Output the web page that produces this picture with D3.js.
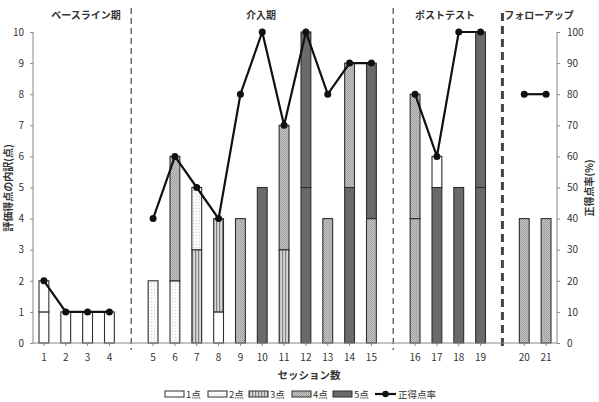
<!DOCTYPE html>
<html lang="ja">
<head>
<meta charset="utf-8">
<script src="https://cdn.jsdelivr.net/npm/d3@7"></script>
<style>
  body { margin: 0; background: #fff; }
  text { font-family: "Noto Sans CJK JP", "Noto Sans", sans-serif; fill: #333; }
</style>
</head>
<body>
<script>
// data
var sessions = ["1","2","3","4","5","6","7","8","9","10","11","12","13","14","15","16","17","18","19","20","21"];
var phaseNames = ["ベースライン期", "介入期", "ポストテスト", "フォローアップ"];
var phaseSizes = [4, 11, 4, 2];
var item1 = [1,1,1,1,2,2,3,1,4,5,3,5,4,5,4,4,5,5,5,4,4];
var item2 = [1,0,0,0,0,4,2,3,0,0,4,5,0,4,5,4,1,0,5,0,0];
var rate = [20,10,10,10,40,60,50,40,80,100,70,100,80,90,90,80,60,100,100,80,80];
var legendNames = ["1点","2点","3点","4点","5点"];

var w = 599, h = 402;
var pLeft = 33, pRight = 557, pTop = 32, pBottom = 343;

// slot keys with a gap between phases
var slots = [], phaseOfSession = [];
var k = 0;
phaseSizes.forEach(function(n, p) {
  if (p > 0) slots.push("gap" + p);
  for (var i = 0; i < n; i++) { slots.push(sessions[k]); phaseOfSession.push(p); k++; }
});

var x = d3.scaleBand().domain(slots).range([pLeft, pRight]).paddingInner(0.55).paddingOuter(0.275);
var yL = d3.scaleLinear().domain([0, 10]).range([pBottom, pTop]);
var yR = d3.scaleLinear().domain([0, 100]).range([pBottom, pTop]);

var svg = d3.select("body").append("svg").attr("width", w).attr("height", h);

// patterns
var defs = svg.append("defs");
var p2 = defs.append("pattern").attr("id", "p2").attr("width", 3).attr("height", 3).attr("patternUnits", "userSpaceOnUse");
p2.append("rect").attr("width", 3).attr("height", 3).attr("fill", "#fbfbfb");
p2.append("rect").attr("x", 1).attr("y", 1).attr("width", 1).attr("height", 1).attr("fill", "#d2d2d2");
var p3 = defs.append("pattern").attr("id", "p3").attr("width", 3).attr("height", 3).attr("patternUnits", "userSpaceOnUse");
p3.append("rect").attr("width", 3).attr("height", 3).attr("fill", "#d8d8d8");
p3.append("rect").attr("x", 0).attr("width", 1.2).attr("height", 3).attr("fill", "#808080");
var p4 = defs.append("pattern").attr("id", "p4").attr("width", 2).attr("height", 2).attr("patternUnits", "userSpaceOnUse");
p4.append("rect").attr("width", 2).attr("height", 2).attr("fill", "#c4c4c4");
p4.append("rect").attr("width", 1).attr("height", 1).attr("fill", "#9a9a9a");
p4.append("rect").attr("x", 1).attr("y", 1).attr("width", 1).attr("height", 1).attr("fill", "#a8a8a8");

var fills = [null, "#ffffff", "url(#p2)", "url(#p3)", "url(#p4)", "#6a6a6a"];

// phase dividers
[1, 2, 3].forEach(function(p) {
  var cx = x("gap" + p) + x.bandwidth() / 2;
  var bold = p === 3;
  svg.append("line")
    .attr("x1", cx).attr("x2", cx)
    .attr("y1", bold ? 13 : 8).attr("y2", 350)
    .attr("stroke", bold ? "#444" : "#555")
    .attr("stroke-width", bold ? 3 : 1.3)
    .attr("stroke-dasharray", bold ? "8,5" : "6,4");
});

// phase labels
var phaseCenters = [86, 261, 445, 539];
phaseNames.forEach(function(name, p) {
  svg.append("text").attr("x", phaseCenters[p]).attr("y", 19)
    .attr("text-anchor", "middle").attr("font-size", 10).attr("font-weight", "bold")
    .text(name);
});

// bars
var segs = [];
sessions.forEach(function(s, i) {
  if (item1[i] > 0) segs.push({ s: s, y0: 0, y1: item1[i], score: item1[i] });
  if (item2[i] > 0) segs.push({ s: s, y0: item1[i], y1: item1[i] + item2[i], score: item2[i] });
});
svg.selectAll("rect.seg").data(segs).enter().append("rect")
  .attr("class", "seg")
  .attr("x", function(d) { return x(d.s); })
  .attr("width", x.bandwidth())
  .attr("y", function(d) { return yL(d.y1); })
  .attr("height", function(d) { return yL(d.y0) - yL(d.y1); })
  .attr("fill", function(d) { return fills[d.score]; })
  .attr("stroke", "#2e2e2e").attr("stroke-width", 1.1);

// axes
var axL = svg.append("g").attr("transform", "translate(" + pLeft + ",0)")
  .call(d3.axisLeft(yL).ticks(10).tickSize(3).tickPadding(6));
var axR = svg.append("g").attr("transform", "translate(" + pRight + ",0)")
  .call(d3.axisRight(yR).ticks(10).tickSize(3).tickPadding(7));
var axB = svg.append("g").attr("transform", "translate(0," + pBottom + ")")
  .call(d3.axisBottom(x).tickValues(sessions).tickSize(3).tickPadding(8));
[axL, axR, axB].forEach(function(g) {
  g.select(".domain").attr("stroke", "#888");
  g.selectAll(".tick line").attr("stroke", "#888");
  g.selectAll(".tick text").attr("font-size", 10).attr("fill", "#333")
    .attr("font-family", "'Noto Sans', sans-serif");
});
axL.select(".domain").attr("d", "M0," + pTop + "V" + pBottom);
axR.select(".domain").attr("d", "M0," + pTop + "V" + pBottom);
axB.select(".domain").attr("d", "M" + pLeft + ",0H" + pRight);

// rate line, broken by phase
var line = d3.line()
  .x(function(d) { return x(d.s) + x.bandwidth() / 2; })
  .y(function(d) { return yR(d.v); });
var pts = sessions.map(function(s, i) { return { s: s, v: rate[i], p: phaseOfSession[i] }; });
var groups = d3.groups(pts, function(d) { return d.p; });
svg.selectAll("path.rate").data(groups).enter().append("path")
  .attr("class", "rate")
  .attr("d", function(g) { return line(g[1]); })
  .attr("fill", "none").attr("stroke", "#111").attr("stroke-width", 2.2);
svg.selectAll("circle.pt").data(pts).enter().append("circle")
  .attr("class", "pt")
  .attr("cx", function(d) { return x(d.s) + x.bandwidth() / 2; })
  .attr("cy", function(d) { return yR(d.v); })
  .attr("r", 3.5).attr("fill", "#111");

// axis titles
svg.append("text").attr("transform", "translate(12,188) rotate(-90)")
  .attr("text-anchor", "middle").attr("font-size", 10).attr("font-weight", "bold")
  .text("評価得点の内訳(点)");
svg.append("text").attr("transform", "translate(593,188) rotate(-90)")
  .attr("text-anchor", "middle").attr("font-size", 10).attr("font-weight", "bold")
  .text("正得点率(%)");
svg.append("text").attr("x", 309).attr("y", 379)
  .attr("text-anchor", "middle").attr("font-size", 10.5).attr("font-weight", "bold")
  .text("セッション数");

// legend
var legX = [165, 208, 249, 292, 333];
var leg = svg.append("g");
legendNames.forEach(function(name, i) {
  leg.append("rect").attr("x", legX[i]).attr("y", 391).attr("width", 19).attr("height", 6)
    .attr("fill", fills[i + 1]).attr("stroke", "#2e2e2e").attr("stroke-width", 1);
  leg.append("text").attr("x", legX[i] + 21).attr("y", 398).attr("font-size", 9.5).text(name);
});
leg.append("line").attr("x1", 375).attr("x2", 396).attr("y1", 394).attr("y2", 394)
  .attr("stroke", "#111").attr("stroke-width", 2.2);
leg.append("circle").attr("cx", 385.5).attr("cy", 394).attr("r", 3.2).attr("fill", "#111");
leg.append("text").attr("x", 398).attr("y", 398).attr("font-size", 9.5).text("正得点率");
</script>
</body>
</html>
